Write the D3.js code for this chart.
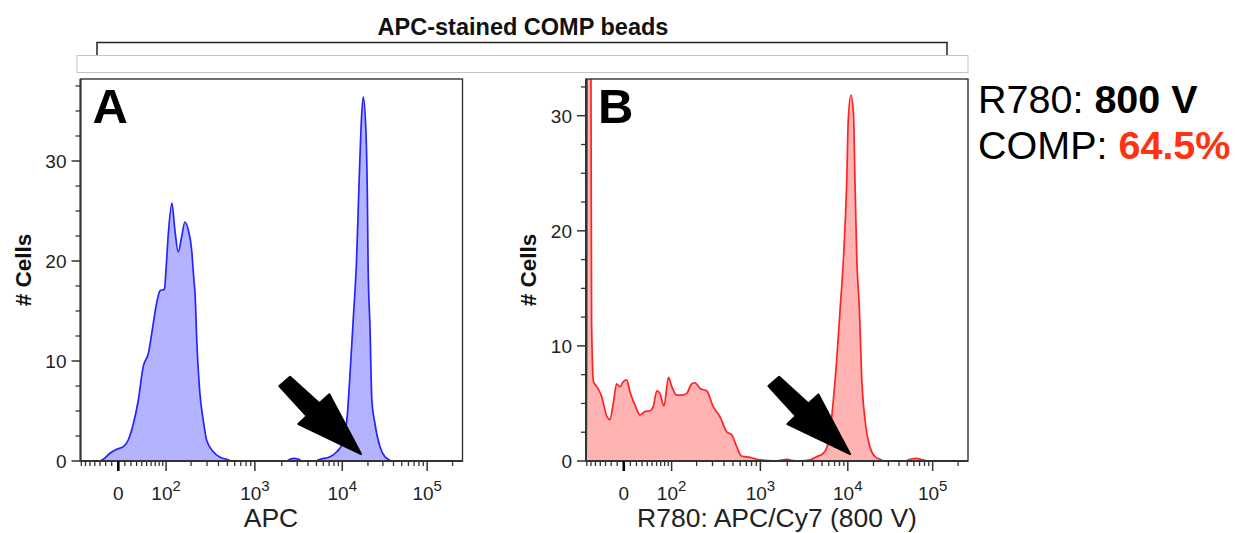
<!DOCTYPE html>
<html><head><meta charset="utf-8">
<script src="https://cdn.jsdelivr.net/npm/d3@7"></script>
<style>body{margin:0;background:#fff} svg{display:block} text{font-family:"Liberation Sans",Arial,Helvetica,sans-serif}</style>
</head><body><svg id="c" width="1238" height="533"></svg>
<script>
// ---------------- data ----------------
const channelMax = 1024;
const apcChannel = [0,52,61,79,97,115,128,142,155,168,182,191,204,213,225,229,235,245,253,262,271,280,289,298,304,307,312,320,329,338,356,374,392,406,554,562,572,583,594,629,642,669,687,700,714,722,731,740,747,754,758,765,769,771,776,781,789,803,816,825,835,1024];
const apcCount   = [0,0,0.17,0.77,1.17,1.43,2.1,3.77,6.1,9.43,10.77,12.77,15.77,17.03,17.17,19,22.5,25.8,23.1,20.9,22.4,23.9,23.1,21.1,18.1,16.8,11.8,6.8,4.1,2.1,0.93,0.37,0.17,0,0,0.2,0.27,0.2,0,0,0.17,0.43,0.93,1.6,4.1,8.4,14.1,20.1,28.1,34.8,36.4,33.1,26.4,19.5,13.4,6.1,3.8,1.4,0.43,0.17,0,0];
const r780Channel = [0,2,4,11,15,20,29,42,56,64,73,82,91,100,109,118,131,145,158,172,180,190,198,209,221,230,243,257,270,283,292,306,324,341,359,377,391,404,417,440,458,484,507,528,539,550,574,601,618,636,645,654,663,672,681,690,699,703,710,717,721,726,733,739,748,761,775,788,802,855,869,885,903,917,1024];
const r780Count   = [0,0,60,60,12,6.9,6.46,5.6,3.85,3.6,5.0,6.7,6.46,6.9,7.04,6.0,4.87,4.0,4.3,4.37,4.72,6.1,5.9,4.78,7.27,6.46,5.73,5.73,5.88,6.69,6.8,6.3,6.08,4.72,3.85,2.55,2.26,1.24,0.43,0.32,0.15,0.05,0,0.1,0.15,0.05,0,0.1,0.37,0.67,1.1,2.4,5.3,8.77,13.1,17.5,24.4,29.6,31.8,30.2,24.4,17.5,13.1,7.3,3.56,1.24,0.37,0.15,0,0,0.15,0.22,0.1,0,0];

const xMajorValues = [0, 1e2, 1e3, 1e4, 1e5];
const xMajorBase   = ["0", "10", "10", "10", "10"];
const xMajorExp    = ["", "2", "3", "4", "5"];
const xMinorValues = [-70,-60,-50,-40,-30,-20,-10,10,20,30,40,50,60,70,80,90,
  200,300,400,500,600,700,800,900,2000,3000,4000,5000,6000,7000,8000,9000,
  20000,30000,40000,50000,60000,70000,80000,90000,200000];
const yMajorValues = [0, 10, 20, 30];
const yMinorA = [2.5,5,7.5,12.5,15,17.5,22.5,25,27.5,32.5,35,37.5];
const yMinorB = [2.5,5,7.5,12.5,15,17.5,22.5,25,27.5,32.5];

const titleText = "APC-stained COMP beads";
const xLabels = ["APC", "R780: APC/Cy7 (800 V)"];
const panelLetters = ["A", "B"];
const yLabel = "# Cells";
const voltageValue = "800 V";
const compValue = "64.5%";
// arrow tips in data space: [channel, count]
const arrowTips = [[752, 0.7], [708, 0.6]];

// ---------------- biexponential (hyperlog-like) transform for tick placement -------------
const biexZero = 101.3, biexDecade = 226, biexB = 3.4, biexTop = 262144;
const uTop = (channelMax - biexZero) / biexDecade;
const biexK = biexTop / (Math.pow(10, uTop) + biexB * uTop - 1);
function biexValue(ch) {
  const u = (ch - biexZero) / biexDecade, a = Math.abs(u);
  return Math.sign(u) * biexK * (Math.pow(10, a) + biexB * a - 1);
}
function biexChannel(v) {
  let lo = -300, hi = 1200;
  for (let i = 0; i < 60; i++) { const m = (lo + hi) / 2; if (biexValue(m) < v) lo = m; else hi = m; }
  return (lo + hi) / 2;
}

// ---------------- drawing ----------------
const svg = d3.select("#c");
const axisColor = "#333";

// title + bracket
svg.append("text").attr("x", 523).attr("y", 35).attr("text-anchor", "middle")
  .attr("font-weight", "bold").attr("font-size", 23.5).attr("fill", "#111").text(titleText);
svg.append("path").attr("d", "M97,56V42.5H947V56").attr("fill", "none").attr("stroke", "#222").attr("stroke-width", 1.5);
svg.append("rect").attr("x", 77).attr("y", 55.5).attr("width", 891).attr("height", 17)
  .attr("fill", "none").attr("stroke", "#c4c4c4").attr("stroke-width", 1);

const panels = [
  {left: 80.5, right: 462.5, top: 79, bottom: 461, ymax: 38.2, minor: yMinorA,
   ch: apcChannel, cnt: apcCount, stroke: "#2424ff", fill: "#b3b3ff"},
  {left: 586, right: 968, top: 79, bottom: 461, ymax: 33.19, minor: yMinorB,
   ch: r780Channel, cnt: r780Count, stroke: "#ff2424", fill: "#ffb3b3"}
];

panels.forEach((p, i) => {
  const x = d3.scaleLinear().domain([0, channelMax]).range([p.left, p.right]);
  const y = d3.scaleLinear().domain([0, p.ymax]).range([p.bottom, p.top]);
  const g = svg.append("g");
  const clipId = "clip" + i;
  svg.append("clipPath").attr("id", clipId).append("rect")
    .attr("x", p.left).attr("y", p.top).attr("width", p.right - p.left).attr("height", p.bottom - p.top);

  const pts = p.ch.map((c, k) => [c, p.cnt[k]]);
  const area = d3.area().x(d => x(d[0])).y0(y(0)).y1(d => y(d[1])).curve(d3.curveMonotoneX);
  const line = d3.line().x(d => x(d[0])).y(d => y(d[1])).curve(d3.curveMonotoneX);
  const cg = g.append("g").attr("clip-path", `url(#${clipId})`);
  cg.append("path").attr("d", area(pts)).attr("fill", p.fill);
  cg.append("path").attr("d", line(pts)).attr("fill", "none").attr("stroke", p.stroke).attr("stroke-width", 1.7);

  // frame
  g.append("rect").attr("x", p.left).attr("y", p.top).attr("width", p.right - p.left).attr("height", p.bottom - p.top)
    .attr("fill", "none").attr("stroke", axisColor).attr("stroke-width", 1.4);
  g.append("line").attr("x1", p.left).attr("x2", p.left).attr("y1", p.top).attr("y2", p.bottom)
    .attr("stroke", axisColor).attr("stroke-width", 2);
  g.append("line").attr("x1", p.left).attr("x2", p.right).attr("y1", p.bottom).attr("y2", p.bottom)
    .attr("stroke", axisColor).attr("stroke-width", 2);

  // y ticks
  yMajorValues.forEach(v => {
    g.append("line").attr("x1", p.left - 9).attr("x2", p.left).attr("y1", y(v)).attr("y2", y(v))
      .attr("stroke", axisColor).attr("stroke-width", 1.5);
    g.append("text").attr("x", p.left - 14).attr("y", y(v)).attr("dy", "0.36em").attr("text-anchor", "end")
      .attr("font-size", 19).attr("fill", "#222").text(v);
  });
  p.minor.forEach(v => {
    g.append("line").attr("x1", p.left - 5).attr("x2", p.left).attr("y1", y(v)).attr("y2", y(v))
      .attr("stroke", axisColor).attr("stroke-width", 1.3);
  });

  // x ticks
  xMinorValues.forEach(v => {
    const cx = x(biexChannel(v));
    if (cx < p.left || cx > p.right) return;
    g.append("line").attr("x1", cx).attr("x2", cx).attr("y1", p.bottom).attr("y2", p.bottom + 5)
      .attr("stroke", axisColor).attr("stroke-width", 1.3);
  });
  xMajorValues.forEach((v, k) => {
    const cx = x(biexChannel(v));
    g.append("line").attr("x1", cx).attr("x2", cx).attr("y1", p.bottom).attr("y2", p.bottom + 10)
      .attr("stroke", v === 0 ? "#000" : axisColor).attr("stroke-width", v === 0 ? 2.6 : 1.5);
    const t = g.append("text").attr("x", cx).attr("y", 500).attr("text-anchor", "middle")
      .attr("font-size", 19).attr("fill", "#222");
    t.append("tspan").text(xMajorBase[k]);
    if (xMajorExp[k]) t.append("tspan").attr("font-size", 15).attr("dy", -9).text(xMajorExp[k]);
  });

  // axis labels
  g.append("text").attr("x", i === 0 ? 271 : 777).attr("y", 526.5).attr("text-anchor", "middle")
    .attr("font-size", 26.5).attr("fill", "#222").text(xLabels[i]);
  g.append("text").attr("transform", `translate(${p.left - 50},${(p.top + p.bottom) / 2}) rotate(-90)`)
    .attr("text-anchor", "middle").attr("font-size", 22.5).attr("font-weight", "bold").attr("fill", "#111").text(yLabel);

  // panel letter
  g.append("text").attr("x", p.left + 12).attr("y", 123).attr("font-size", 49).attr("font-weight", "bold")
    .attr("fill", "#000").text(panelLetters[i]);

  // arrow
  const tip = arrowTips[i];
  const tx = x(tip[0]), ty = y(tip[1]);
  const shape = [[0,0],[-62.7,-30],[-54.3,-38],[-81.7,-68],[-71,-77.3],[-41.7,-50.7],[-31.7,-59.7]];
  g.append("path").attr("d", "M" + shape.map(s => [tx + s[0], ty + s[1]].join(",")).join("L") + "Z")
    .attr("fill", "#000").attr("stroke", "#000").attr("stroke-width", 2).attr("stroke-linejoin", "round");
});

// right-side annotation
const ann1 = svg.append("text").attr("x", 978).attr("y", 113).attr("font-size", 39.5).attr("fill", "#000");
ann1.append("tspan").text("R780: ");
ann1.append("tspan").attr("font-weight", "bold").text(voltageValue);
const ann2 = svg.append("text").attr("x", 978).attr("y", 158.5).attr("font-size", 39.5).attr("fill", "#000");
ann2.append("tspan").text("COMP: ");
ann2.append("tspan").attr("font-weight", "bold").attr("fill", "#ff3311").text(compValue);
</script>
</body></html>
